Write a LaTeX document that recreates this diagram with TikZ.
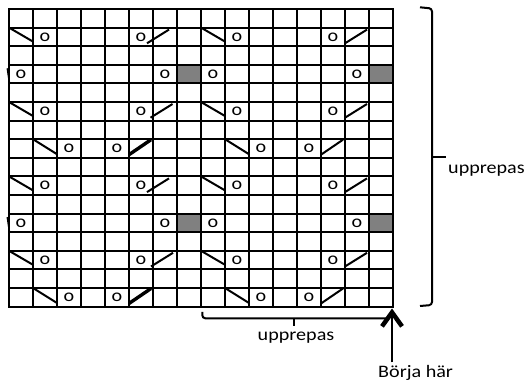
\documentclass[tikz,border=0pt]{standalone}
\usepackage{fontspec}
\usepackage{graphicx}
\setmainfont{Carlito}
\usetikzlibrary{arrows.meta}
\newcommand\wide[1]{\scalebox{1.15}[1]{#1}}
\begin{document}
\begin{tikzpicture}[x=1pt,y=-1pt,
  gridline/.style={line width=2pt, line cap=rect},
  stitch/.style={line width=2pt},
  edgemark/.style={line width=1.5pt},
  yo/.style={inner sep=0pt, font=\fontsize{17.5}{20}\selectfont},
  lbl/.style={inner sep=0pt, font=\fontsize{17.5}{20}\selectfont},
  bracket/.style={line width=2pt, rounded corners=3pt},
  grayfill/.style={fill=black!50}
]
\useasboundingbox (0,0) rectangle (531,387);

% gray cells
\foreach \r in {4,12}{
  \foreach \h in {0,1}{
    \pgfmathsetmacro\Y{9+18.6*(\r-1)}
    \pgfmathsetmacro\X{9+192*\h+168}
    \fill[grayfill] (\X,\Y) rectangle ({\X+24},{\Y+18.6});
  }
}

% grid
\foreach \i in {0,...,16}{
  \draw[gridline] ({9+24*\i},9) -- ({9+24*\i},306.6);
}
\foreach \j in {0,...,16}{
  \draw[gridline] (9,{9+18.6*\j}) -- (393,{9+18.6*\j});
}

% rows 2,6,10,14
\foreach \r/\dx in {2/-6,6/-2.5,10/-6,14/-2}{
  \foreach \h/\s in {0/1,1/0}{
    \pgfmathsetmacro\Y{9+18.6*(\r-1)}
    \pgfmathsetmacro\XA{9+192*\h}
    \pgfmathsetmacro\XG{9+192*\h+144+\dx*\s}
    \draw[stitch] (\XA,\Y) -- ({\XA+24},{\Y+14});
    \node[yo] (oa\r\h) at ({\XA+36},{\Y+9.3}) {\wide{o}};
    \node[yo] (ob\r\h) at ({\XA+132},{\Y+9.3}) {\wide{o}};
    \draw[stitch] (\XG,{\Y+15.7}) -- ({\XG+22},{\Y+2});
  }
}

% rows 4,12
\foreach \r in {4,12}{
  \foreach \h in {0,1}{
    \pgfmathsetmacro\Y{9+18.6*(\r-1)}
    \pgfmathsetmacro\XA{9+192*\h}
    \node[yo] (oc\r\h) at ({\XA+12},{\Y+9.3}) {\wide{o}};
    \node[yo] (od\r\h) at ({\XA+156},{\Y+9.3}) {\wide{o}};
  }
  \pgfmathsetmacro\Y{9+18.6*(\r-1)}
  \draw[edgemark] (7.3,{\Y+3.5}) .. controls (7.6,{\Y+10}) .. (9.3,{\Y+17});
}

% rows 8,16
\foreach \r in {8,16}{
  \foreach \h/\w in {0/3.4pt,1/2pt}{
    \pgfmathsetmacro\Y{9+18.6*(\r-1)}
    \pgfmathsetmacro\XA{9+192*\h}
    \draw[stitch] ({\XA+24},\Y) -- ({\XA+48},{\Y+15});
    \node[yo] (oe\r\h) at ({\XA+60},{\Y+9.3}) {\wide{o}};
    \node[yo] (of\r\h) at ({\XA+108},{\Y+9.3}) {\wide{o}};
    \draw[line width=\w] ({\XA+120},{\Y+15.5}) -- ({\XA+142},{\Y+0.5});
  }
}

% right bracket
\draw[bracket] (420,7.3) -- (432,8.5) -- (432,305) -- (420,306);
\coordinate (rtick) at (432,156.7);
\node[lbl, anchor=base west] (rep1) at (448,173.3) {\wide{upprepas}};
\draw[line width=2pt] (rtick) -- ++(14,0);

% bottom bracket
\draw[bracket] (202.3,312) -- (202.3,318.3) -- (390,318.3);
\coordinate (btick) at (294.3,318.3);
\draw[line width=2pt] (btick) -- ++(0,7.4);
\node[lbl, anchor=base] (rep2) at (296,341) {\wide{upprepas}};

% start arrow
\coordinate (start) at (392,308.5);
\node[lbl, anchor=base west] (borja) at (378,377.7) {\wide{Börja här}};
\draw[line width=2pt, shorten <=3pt, -{Straight Barb[length=14pt,width=20pt,line width=4.5pt]}] (borja.north -| start) -- (start);
\end{tikzpicture}
\end{document}
